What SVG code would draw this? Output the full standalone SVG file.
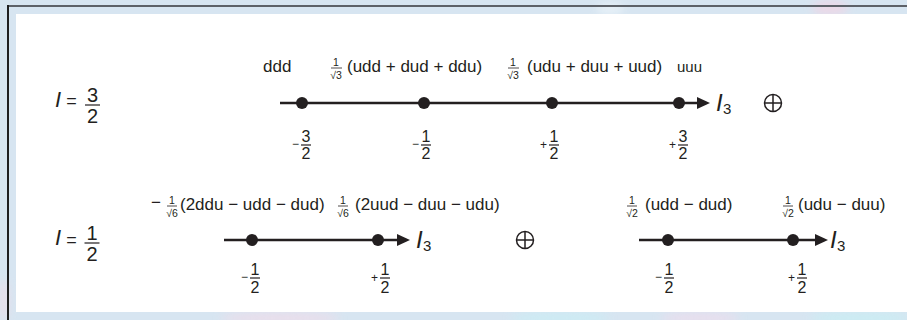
<svg xmlns="http://www.w3.org/2000/svg" width="907" height="320" viewBox="0 0 907 320">
<defs>
<style>
text{font-family:"Liberation Sans",Arial,sans-serif;fill:#231f20}
.lab{font-size:17px}
.sm{font-size:10.5px;text-anchor:middle}
.tk{font-size:16px;text-anchor:middle}
.sg{font-size:12px;text-anchor:end}
.big{font-size:20px;text-anchor:middle}
.it{font-style:italic}
.axis{stroke:#231f20;stroke-width:2.5;fill:none}
.bar{stroke:#231f20;stroke-width:1.2}
.sbar{stroke:#231f20;stroke-width:0.8}
.dot{fill:#231f20}
.oplus{fill:none;stroke:#231f20;stroke-width:1.5}
</style>
<filter id="blur" x="-20%" y="-50%" width="140%" height="200%"><feGaussianBlur stdDeviation="4"/></filter>
</defs>
<!-- background -->
<rect x="0" y="0" width="907" height="320" fill="#d7e5f1"/>
<g filter="url(#blur)" opacity="0.7">
<ellipse cx="280" cy="318" rx="60" ry="6" fill="#f3dbe9"/>
<ellipse cx="560" cy="318" rx="50" ry="6" fill="#c8eef5"/>
<ellipse cx="700" cy="318" rx="40" ry="6" fill="#f0dcec"/>
<ellipse cx="860" cy="318" rx="50" ry="6" fill="#c6f0f4"/>
<ellipse cx="830" cy="8" rx="18" ry="8" fill="#f3d4e4"/>
<ellipse cx="610" cy="9" rx="14" ry="6" fill="#eef6fb"/>
<ellipse cx="4" cy="300" rx="5" ry="20" fill="#f0dbe8"/>
</g>
<rect x="7" y="5" width="900" height="2" fill="#5d6168"/>
<rect x="7" y="5" width="2" height="315" fill="#1e1e20"/>
<rect x="16" y="14" width="891" height="298" fill="#ffffff"/>

<!-- I = 3/2 -->
<g id="I32">
<text x="55" y="107" class="it" font-size="22">I</text>
<text x="71.5" y="107" font-size="18" text-anchor="middle">=</text>
<text class="big"><tspan x="92.5" y="102">3</tspan><tspan x="92.5" y="122.5">2</tspan></text>
<line x1="85" y1="105" x2="100" y2="105" class="bar" stroke-width="1.5"/>
</g>
<!-- I = 1/2 -->
<g id="I12">
<text x="55" y="245" class="it" font-size="22">I</text>
<text x="71.5" y="246" font-size="18" text-anchor="middle">=</text>
<text class="big"><tspan x="92" y="240">1</tspan><tspan x="92" y="260.5">2</tspan></text>
<line x1="84.5" y1="243" x2="99.5" y2="243" class="bar" stroke-width="1.5"/>
</g>

<!-- connectors / axes -->
<g id="axes">
<line x1="280" y1="103" x2="699" y2="103" class="axis"/>
<polygon points="697,97 710,103 697,109" class="dot"/>
<line x1="224" y1="240" x2="399" y2="240" class="axis"/>
<polygon points="397,234 410,240 397,246" class="dot"/>
<line x1="639" y1="240" x2="817" y2="240" class="axis"/>
<polygon points="815,234 828,240 815,246" class="dot"/>
</g>

<!-- axis labels and oplus -->
<g id="axislabels">
<text x="716" y="111" class="it" font-size="24">I</text>
<text x="723" y="114" font-size="15">3</text>
<text x="416" y="248" class="it" font-size="24">I</text>
<text x="423" y="251" font-size="15">3</text>
<text x="830" y="248" class="it" font-size="24">I</text>
<text x="837" y="251" font-size="15">3</text>
<g class="oplus"><circle cx="773" cy="103" r="8.5"/><path d="M764.5 103H781.5M773 94.5V111.5"/></g>
<g class="oplus"><circle cx="525" cy="240" r="8.5"/><path d="M516.5 240H533.5M525 231.5V248.5"/></g>
</g>

<!-- Row 1 nodes -->
<g id="n_ddd">
<circle cx="302" cy="103" r="6" class="dot"/>
<text x="263" y="72" class="lab">ddd</text>
<text x="299" y="148" class="sg">−</text>
<text class="tk"><tspan x="306" y="142">3</tspan><tspan x="306" y="159">2</tspan></text>
<line x1="301" y1="145" x2="311" y2="145" class="bar"/>
</g>
<g id="n_udd">
<circle cx="424" cy="103" r="6" class="dot"/>
<text class="sm"><tspan x="336" y="66">1</tspan><tspan x="336" y="79">√3</tspan></text>
<line x1="331" y1="68" x2="342" y2="68" class="sbar"/>
<text x="347" y="72" class="lab">(udd + dud + ddu)</text>
<text x="419" y="148" class="sg">−</text>
<text class="tk"><tspan x="426" y="142">1</tspan><tspan x="426" y="159">2</tspan></text>
<line x1="421" y1="145" x2="431" y2="145" class="bar"/>
</g>
<g id="n_udu">
<circle cx="552" cy="103" r="6" class="dot"/>
<text class="sm"><tspan x="513" y="66">1</tspan><tspan x="513" y="79">√3</tspan></text>
<line x1="508" y1="68" x2="519" y2="68" class="sbar"/>
<text x="527" y="72" class="lab">(udu + duu + uud)</text>
<text x="547" y="149" class="sg">+</text>
<text class="tk"><tspan x="554" y="142">1</tspan><tspan x="554" y="159">2</tspan></text>
<line x1="549" y1="145" x2="559" y2="145" class="bar"/>
</g>
<g id="n_uuu">
<circle cx="679" cy="103" r="6" class="dot"/>
<text x="677" y="72" font-size="15">uuu</text>
<text x="676" y="149" class="sg">+</text>
<text class="tk"><tspan x="683" y="142">3</tspan><tspan x="683" y="159">2</tspan></text>
<line x1="678" y1="145" x2="688" y2="145" class="bar"/>
</g>

<!-- Row 2 left nodes -->
<g id="n_mixA_m">
<circle cx="252" cy="240" r="6" class="dot"/>
<text x="151" y="208" class="lab">−</text>
<text class="sm"><tspan x="172" y="204">1</tspan><tspan x="172" y="216.5">√6</tspan></text>
<line x1="167" y1="206" x2="177" y2="206" class="sbar"/>
<text x="180" y="210" class="lab">(2ddu − udd − dud)</text>
<text x="248" y="281" class="sg">−</text>
<text class="tk"><tspan x="255" y="275">1</tspan><tspan x="255" y="293">2</tspan></text>
<line x1="250" y1="278" x2="260" y2="278" class="bar"/>
</g>
<g id="n_mixA_p">
<circle cx="378" cy="240" r="6" class="dot"/>
<text class="sm"><tspan x="343" y="204">1</tspan><tspan x="343" y="216.5">√6</tspan></text>
<line x1="338" y1="206" x2="348" y2="206" class="sbar"/>
<text x="355" y="210" class="lab">(2uud − duu − udu)</text>
<text x="378" y="282" class="sg">+</text>
<text class="tk"><tspan x="385" y="275">1</tspan><tspan x="385" y="293">2</tspan></text>
<line x1="380" y1="278" x2="390" y2="278" class="bar"/>
</g>

<!-- Row 2 right nodes -->
<g id="n_mixS_m">
<circle cx="668" cy="240" r="6" class="dot"/>
<text class="sm"><tspan x="632" y="204">1</tspan><tspan x="632" y="216.5">√2</tspan></text>
<line x1="627" y1="206" x2="637" y2="206" class="sbar"/>
<text x="645" y="210" class="lab">(udd − dud)</text>
<text x="662" y="281" class="sg">−</text>
<text class="tk"><tspan x="669" y="275">1</tspan><tspan x="669" y="293">2</tspan></text>
<line x1="664" y1="278" x2="674" y2="278" class="bar"/>
</g>
<g id="n_mixS_p">
<circle cx="793" cy="240" r="6" class="dot"/>
<text class="sm"><tspan x="788" y="204">1</tspan><tspan x="788" y="216.5">√2</tspan></text>
<line x1="783" y1="206" x2="793" y2="206" class="sbar"/>
<text x="798" y="210" class="lab">(udu − duu)</text>
<text x="795" y="282" class="sg">+</text>
<text class="tk"><tspan x="802" y="275">1</tspan><tspan x="802" y="293">2</tspan></text>
<line x1="797" y1="278" x2="807" y2="278" class="bar"/>
</g>
</svg>
